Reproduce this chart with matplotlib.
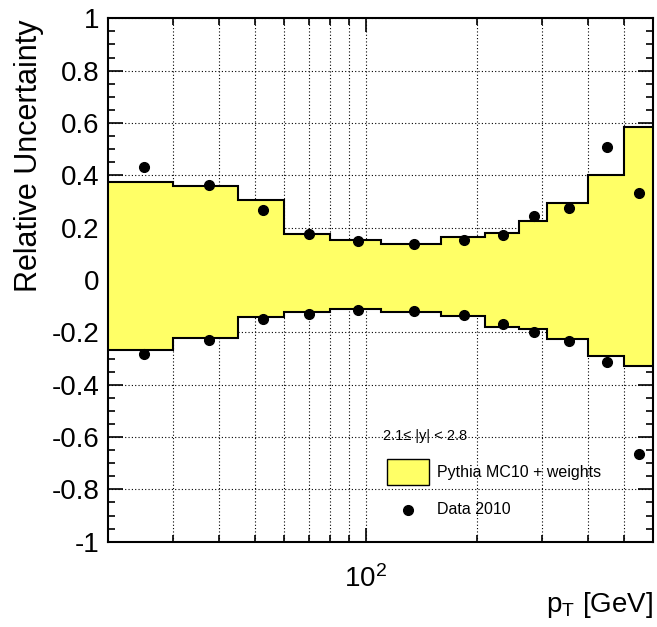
import matplotlib
matplotlib.use('Agg')
import matplotlib.pyplot as plt
from matplotlib.ticker import MultipleLocator, NullFormatter, FixedLocator, FixedFormatter
from matplotlib.patches import Rectangle
from matplotlib.lines import Line2D
import numpy as np

plt.rcParams['font.family'] = ['Liberation Sans', 'DejaVu Sans']
plt.rcParams['mathtext.fontset'] = 'custom'
plt.rcParams['mathtext.rm'] = 'Liberation Sans'
plt.rcParams['mathtext.it'] = 'Liberation Sans:italic'
plt.rcParams['axes.unicode_minus'] = False

# pT bin edges [GeV] and uncertainties
pt_edges = [20, 30, 45, 60, 80, 110, 160, 210, 260, 310, 400, 500, 600]
mc_up = [0.376, 0.358, 0.305, 0.175, 0.151, 0.136, 0.165, 0.178, 0.225, 0.296, 0.403, 0.584]
mc_down = [-0.269, -0.222, -0.143, -0.124, -0.110, -0.123, -0.139, -0.180, -0.189, -0.227, -0.292, -0.327]
data_up = [0.433, 0.363, 0.269, 0.175, 0.148, 0.138, 0.153, 0.172, 0.245, 0.274, 0.510, 0.334]
data_down = [-0.284, -0.231, -0.148, -0.130, -0.116, -0.120, -0.133, -0.167, -0.197, -0.233, -0.315, -0.666]

yellow = '#ffff66'
W, H = 657, 627

fig = plt.figure(figsize=(W / 100, H / 100), dpi=100)
ax = fig.add_axes([108 / W, 1 - 541.7 / H, (653 - 108) / W, (541.7 - 18.3) / H])

edges = np.array(pt_edges, dtype=float)
centers = 0.5 * (edges[:-1] + edges[1:])

# band + outline
ax.stairs(mc_up, edges, baseline=mc_down, fill=True, color=yellow, zorder=2)
ax.stairs(mc_up, edges, baseline=None, color='black', lw=1.5, zorder=3)
ax.stairs(mc_down, edges, baseline=None, color='black', lw=1.5, zorder=3)

ax.plot(centers, data_up, 'o', color='black', ms=7, zorder=4)
ax.plot(centers, data_down, 'o', color='black', ms=7, zorder=4)

ax.set_xscale('log')
ax.set_xlim(20, 600)
ax.set_ylim(-1, 1)

ax.xaxis.set_major_locator(FixedLocator([100]))
ax.xaxis.set_major_formatter(FixedFormatter([r'$10^{2}$']))
ax.xaxis.set_minor_locator(FixedLocator([30, 40, 50, 60, 70, 80, 90, 200, 300, 400, 500]))
ax.xaxis.set_minor_formatter(NullFormatter())

yt = [-1, -0.8, -0.6, -0.4, -0.2, 0, 0.2, 0.4, 0.6, 0.8, 1]
ax.yaxis.set_major_locator(FixedLocator(yt))
ax.yaxis.set_major_formatter(FixedFormatter(['%g' % v for v in yt]))
ax.yaxis.set_minor_locator(MultipleLocator(0.05))

ax.tick_params(which='both', direction='in', top=True, right=True, width=1.2)
ax.tick_params(which='major', length=11, labelsize=20)
ax.tick_params(which='minor', length=5)
ax.tick_params(axis='x', which='major', length=10, pad=17)
ax.tick_params(axis='y', which='major', pad=6)

ax.grid(True, which='both', axis='x', color='black', lw=0.8, linestyle=(0, (1, 2)), zorder=1)
ax.grid(True, which='major', axis='y', color='black', lw=0.8, linestyle=(0, (1, 2)), zorder=1)
ax.set_axisbelow(True)

for s in ax.spines.values():
    s.set_linewidth(1.5)
    s.set_zorder(5)

fig.text(29 / W, 1 - 20 / H, 'Relative Uncertainty', rotation=90, ha='center', va='top', fontsize=22)
fig.text(653 / W, 1 - 612 / H, r'p$_\mathrm{T}$ [GeV]', ha='right', va='baseline', fontsize=20)

# legend
fig.text(383 / W, 1 - 436 / H, '2.1\u2264 |y| < 2.8', ha='left', va='center', fontsize=10.5)
fig.add_artist(Rectangle((387 / W, 1 - 485 / H), 42 / W, 26 / H, transform=fig.transFigure,
                         facecolor=yellow, edgecolor='black', lw=1))
fig.text(437 / W, 1 - 472 / H, 'Pythia MC10 + weights', ha='left', va='center', fontsize=11.5)
fig.add_artist(Line2D([408 / W], [1 - 510 / H], marker='o', color='black', ms=7, transform=fig.transFigure))
fig.text(437 / W, 1 - 510 / H, 'Data 2010', ha='left', va='center', fontsize=11.5)

fig.savefig('out.png', dpi=100)
